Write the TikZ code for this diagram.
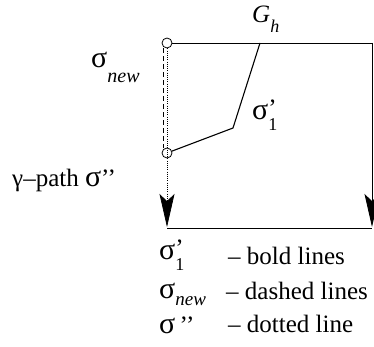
\documentclass[tikz,border=0pt]{standalone}
\usepackage{fontspec}
\setmainfont{Liberation Serif}
\usetikzlibrary{arrows.meta}
\newcommand\sg{{\fontsize{30}{30}\selectfont σ}}
\newcommand\lowered[3]{\raisebox{-#1}{\fontsize{#2}{#2}\selectfont #3}}
\newcommand\prm{\rlap{\raisebox{3pt}{’}}}
\begin{document}
\begin{tikzpicture}[x=1pt,y=-1pt,
  frame/.style={line width=0.9pt},
  boldline/.style={line width=1.1pt},
  dashline/.style={line width=0.8pt, dash pattern=on 5pt off 3pt},
  dotline/.style={line width=0.7pt, dash pattern=on 0.8pt off 1.4pt},
  ring/.style={circle, draw, line width=0.8pt, minimum size=10pt, inner sep=0pt},
  arr/.style={-{Stealth[length=33pt,width=15pt,inset=7pt]}},
  txt/.style={inner sep=0pt, anchor=base west, font=\rmfamily\fontsize{25}{25}\selectfont}]
\useasboundingbox (0,0) rectangle (374,347);
\node[ring] (c1) at (167,43) {};
\node[ring] (c2) at (167,153) {};
\coordinate (tr) at (372,43);
\coordinate (rb) at (372,228);
\coordinate (lb) at (167,228);
\coordinate (bend) at (233,128);
\coordinate (topp) at (260,43);
% lines
\draw[frame] (c1) -- (tr);
\draw[frame, arr] (tr) -- ([yshift=1pt]rb);
\draw[frame] (lb) -- (rb);
\draw[dashline] ([xshift=-3.5pt]c1.south) -- ([xshift=-3.5pt]c2.north);
\draw[dotline, arr] (c1.south) -- ([yshift=1pt]lb);
\draw[boldline] (c2) -- (bend) -- (topp);
% labels
\node[txt] (gh) at (252,23) {\textit{G}\lowered{10pt}{18}{\itshape h}};
\node[txt] (snew) at (91,68) {\sg\lowered{15pt}{20}{\itshape new}};
\node[txt] (s1) at (252,120) {\sg\prm\lowered{11pt}{18}{1}};
\node[txt] (gp) at (12,187) {γ–path \sg’’};
% legend
\node[txt] (l1) at (159,259) {\sg\prm\lowered{11pt}{18}{1}};
\node[txt] (d1) at (228,264) {– bold lines};
\node[txt] (l2) at (159,298) {\sg\lowered{7pt}{19}{\itshape new}};
\node[txt] (d2) at (226,299) {– dashed lines};
\node[txt] (l3) at (159,333) {\sg\,’’};
\node[txt] (d3) at (228,332) {– dotted line};
\end{tikzpicture}
\end{document}
